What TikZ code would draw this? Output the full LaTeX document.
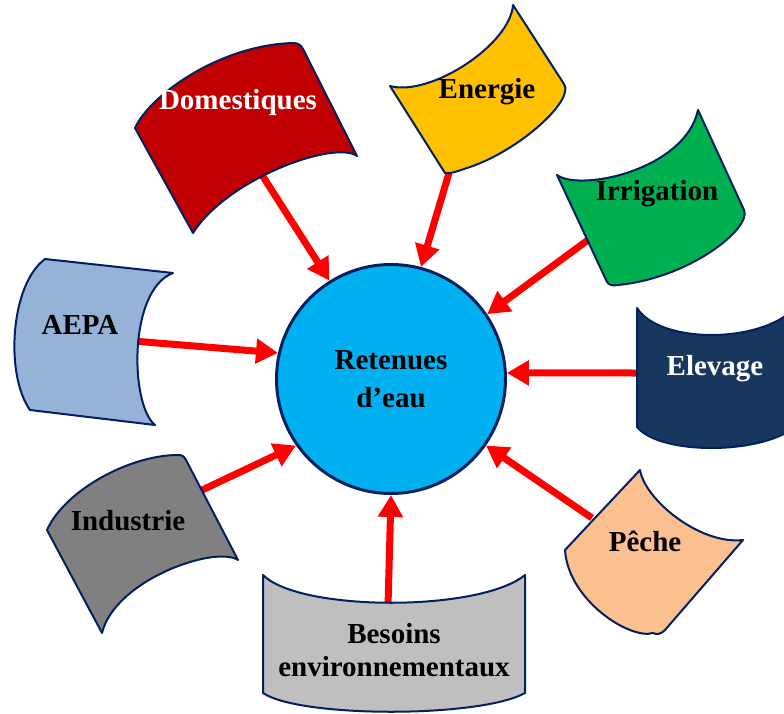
\documentclass[tikz,border=0pt]{standalone}
\usepackage{fontspec}
\setmainfont{Liberation Serif}
\usetikzlibrary{arrows.meta}

\definecolor{edge}{HTML}{002060}
\definecolor{domred}{HTML}{C00000}
\definecolor{enegold}{HTML}{FFC000}
\definecolor{irrgreen}{HTML}{00B050}
\definecolor{aepablue}{HTML}{95B3D7}
\definecolor{elevnavy}{HTML}{17375E}
\definecolor{indgray}{HTML}{808080}
\definecolor{besgray}{HTML}{BFBFBF}
\definecolor{pecpeach}{HTML}{FAC090}
\definecolor{waterblue}{HTML}{00B0F0}
\definecolor{arrowred}{HTML}{FF0000}

\begin{document}
\begin{tikzpicture}[x=0.75pt,y=-0.75pt,
  panel/.style={draw=edge, line width=1.5pt, line join=round},
  caption/.style={font=\bfseries\fontsize{21.75pt}{25pt}\selectfont, align=center, inner sep=0pt},
  flow/.style={draw=arrowred, line width=5.25pt, -{Triangle[width=18pt,length=16.5pt]}}]
\useasboundingbox (0,0) rectangle (784,713);
\begin{scope}
\clip (0,0) rectangle (784,713);

% central reservoir
\node[circle, draw=edge, line width=2.25pt, fill=waterblue, minimum size=171.75pt,
      inner sep=0pt, caption, font=\bfseries\fontsize{21.75pt}{28.5pt}\selectfont]
      (ret) at (391,379) {Retenues\\d’eau};

% start points of the flows
\coordinate (s-dom) at (262,175);
\coordinate (s-ene) at (449,173);
\coordinate (s-irr) at (588,240);
\coordinate (s-elev) at (640,373);
\coordinate (s-pec) at (592,518);
\coordinate (s-bes) at (388,606);
\coordinate (s-ind) at (198,492);
\coordinate (s-aepa) at (133,341);

% flows towards the reservoir
\draw[flow] (s-dom) -- (ret.122);
\draw[flow] (s-ene) -- (ret.75);
\draw[flow] (s-irr) -- (ret.34);
\draw[flow] (s-elev) -- (ret.3);
\draw[flow] (s-pec) -- (ret.-35);
\draw[flow] (s-bes) -- (ret.-90);
\draw[flow] (s-ind) -- (ret.215);
\draw[flow] (s-aepa) -- (ret.167);

% Domestiques
\path[panel, fill=domred] (135,128) .. controls (150,95) and (220,45) .. (293,43)
  .. controls (298,43) and (301,45) .. (303,49) -- (357,156)
  .. controls (335,140) and (228,178) .. (193,233) -- cycle;
% Energie
\path[panel, fill=enegold] (390,86) .. controls (430,97) and (510,45) .. (513,5)
  -- (564,84) .. controls (575,100) and (520,150) .. (470,167)
  .. controls (455,172) and (450,174) .. (445,173) -- cycle;
% Irrigation
\path[panel, fill=irrgreen] (557,175) .. controls (580,192) and (685,170) .. (698,110)
  -- (744,210) .. controls (752,228) and (690,278) .. (618,285)
  .. controls (612,286) and (609,285) .. (607,282) -- cycle;
% Elevage
\path[panel, fill=elevnavy] (637,308) .. controls (660,344) and (760,344) .. (795,308)
  -- (795,427) .. controls (760,455) and (660,455) .. (637,427) -- cycle;
% Peche
\path[panel, fill=pecpeach] (640,470) .. controls (645,500) and (700,545) .. (743,540)
  -- (665,630) .. controls (661,634) and (657,635) .. (653,633)
  .. controls (630,640) and (568,600) .. (565,550) -- cycle;
% Besoins environnementaux
\path[panel, fill=besgray] (263,575) .. controls (300,612) and (480,612) .. (525,575)
  -- (525,693) .. controls (480,718) and (300,718) .. (263,693) -- cycle;
% Industrie
\path[panel, fill=indgray] (47,530) .. controls (65,490) and (130,455) .. (178,455)
  .. controls (182,455) and (184,456) .. (186,460) -- (238,560)
  .. controls (215,545) and (115,580) .. (102,633) -- cycle;
% AEPA
\path[panel, fill=aepablue] (45,259) .. controls (10,285) and (5,375) .. (30,410)
  -- (155,425) .. controls (130,405) and (128,290) .. (173,273) -- cycle;

% captions
\node[caption, text=white] (t-dom) at (238,103) {Domestiques};
\node[caption] (t-ene) at (487,92) {Energie};
\node[caption] (t-irr) at (657,194) {Irrigation};
\node[caption, text=white] (t-elev) at (715,369) {Elevage};
\node[caption] (t-pec) at (645,541) {Pêche};
\node[caption] (t-bes) at (394,650) {Besoins\\environnementaux};
\node[caption] (t-ind) at (128,521) {Industrie};
\node[caption] (t-aepa) at (80,325) {AEPA};
\end{scope}
\end{tikzpicture}
\end{document}
